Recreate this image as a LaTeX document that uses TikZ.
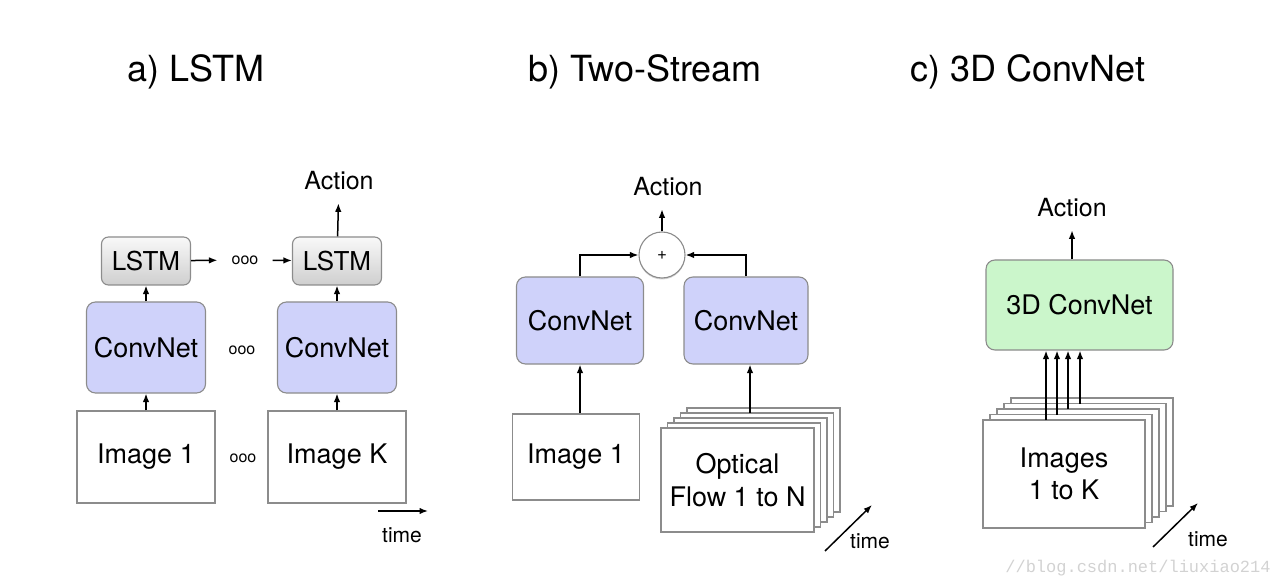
\documentclass[tikz,border=0pt]{standalone}
\usepackage{fontspec}
\setmainfont{TeX Gyre Heros}
\setmonofont{Liberation Mono}
\usetikzlibrary{arrows.meta, shadows}
\definecolor{convcolor}{HTML}{CFD2FA}
\definecolor{threedcolor}{HTML}{CBF6CB}
\definecolor{edgecolor}{HTML}{8C8C8C}

\begin{document}
\begin{tikzpicture}[x=1pt, y=-1pt,
    heading/.style={font=\fontsize{36}{40}\selectfont},
    net/.style={rectangle, rounded corners=9pt, draw=edgecolor, line width=1.1pt, fill=convcolor, font=\fontsize{27}{30}\selectfont},
    lstm/.style={rectangle, rounded corners=7pt, draw=edgecolor, line width=1.1pt, top color=gray!5, bottom color=gray!38, minimum width=89pt, minimum height=48pt, font=\fontsize{26}{30}\selectfont},
    imgbox/.style={rectangle, draw=edgecolor, line width=1.1pt, fill=white, align=center, font=\fontsize{27}{32.5}\selectfont},
    action/.style={font=\fontsize{25}{28}\selectfont, inner ysep=14pt, text depth=0pt},
    etc/.style={font=\fontsize{16}{18}\selectfont},
    timetext/.style={font=\fontsize{21}{24}\selectfont},
    arrow/.style={-{Latex[length=8.5pt,width=6.5pt]}, line width=1.5pt}
]
\useasboundingbox (0,0) rectangle (1282,585);

% Titles
\node[heading] (ttla) at (196,72) {a) LSTM};
\node[heading] (ttlb) at (645,72) {b) Two-Stream};
\node[heading] (ttlc) at (1028,72) {c) 3D ConvNet};

% a) LSTM
\node[imgbox, minimum width=138pt, minimum height=92pt] (img1) at (146,457) {Image 1};
\node[imgbox, minimum width=138pt, minimum height=92pt] (imgK) at (337,457) {Image K};
\node[net, minimum width=119pt, minimum height=91pt] (cna) at (146,347.5) {ConvNet};
\node[net, minimum width=119pt, minimum height=91pt] (cnk) at (337,347.5) {ConvNet};
\node[lstm] (lstm1) at (146,261) {LSTM};
\node[lstm] (lstmK) at (337,261) {LSTM};
\node[etc] (etcimg) at (243,458) {ooo};
\node[etc] (etccn) at (242,350) {ooo};
\node[etc, inner xsep=14pt] (etclstm) at (245,260) {ooo};
\node[action] (acta) at (339,180) {Action};

\draw[arrow] (img1) -- (cna);
\draw[arrow] (imgK) -- (cnk);
\draw[arrow] (cna) -- (lstm1);
\draw[arrow] (cnk) -- (lstmK);
\draw[arrow] (lstm1) -- (etclstm);
\draw[arrow] (etclstm) -- (lstmK);
\draw[arrow] (lstmK) -- (acta);

\coordinate (timea0) at (378,511);
\coordinate (timea1) at (428,511);
\draw[arrow] (timea0) -- (timea1);
\node[timetext] (timea) at (402,535) {time};

% b) Two-Stream
\node[imgbox, minimum width=127pt, minimum height=86pt] (img2) at (576,457) {Image 1};
\foreach \i in {4,3,2,1}
  \node[imgbox, minimum width=153pt, minimum height=104pt] (flow\i) at (737.5+6.5*\i,480-5*\i) {};
\node[imgbox, minimum width=153pt, minimum height=104pt] (flow0) at (737.5,480) {Optical\\Flow 1 to N};
\node[net, minimum width=127pt, minimum height=87pt] (cn1) at (580,320.5) {ConvNet};
\node[net, minimum width=124pt, minimum height=87pt] (cn2) at (746,320.5) {ConvNet};
\node[circle, draw=edgecolor, line width=1.1pt, fill=white, minimum size=46pt, inner sep=0pt,
      drop shadow={opacity=0.35, shadow xshift=0pt, shadow yshift=-1.5pt}] (plus) at (662,255) {\fontsize{17}{18}\selectfont +};
\node[action] (actb) at (668,186) {Action};

\coordinate (flowsrc) at (750,413);
\draw[arrow] (img2.north -| cn1) -- (cn1.south);
\draw[arrow] (flowsrc) -- (cn2.south -| flowsrc);
\draw[arrow] (cn1.north) |- (plus.west);
\draw[arrow] (cn2.north) |- (plus.east);
\draw[arrow] (plus) -- (plus.north |- actb.south);

\coordinate (timeb0) at (825,551);
\coordinate (timeb1) at (872,505);
\draw[arrow] (timeb0) -- (timeb1);
\node[timetext] (timeb) at (870,541) {time};

% c) 3D ConvNet
\foreach \i in {4,3,2,1}
  \node[imgbox, minimum width=162pt, minimum height=108pt] (stack\i) at (1064+7*\i,474-5.5*\i) {};
\node[imgbox, minimum width=162pt, minimum height=108pt] (stack0) at (1064,474) {Images\\1 to K};
\node[net, fill=threedcolor, minimum width=187pt, minimum height=90pt] (cn3d) at (1079.5,305) {3D ConvNet};
\node[action] (actc) at (1072,207) {Action};

\foreach \i/\x in {0/1046,1/1057,2/1068,3/1080}{
  \coordinate (src\i) at (\x,420-5.5*\i);
  \draw[arrow] (src\i) -- (cn3d.south -| src\i);
}
\draw[arrow] (cn3d.north -| actc) -- (actc);

\coordinate (timec0) at (1153,547);
\coordinate (timec1) at (1198,503);
\draw[arrow] (timec0) -- (timec1);
\node[timetext] (timec) at (1208,539) {time};

% watermark
\node[font=\ttfamily\fontsize{17}{18}\selectfont, text=gray!35] (mark) at (1138,568) {//blog.csdn.net/liuxiao214};
\end{tikzpicture}
\end{document}
